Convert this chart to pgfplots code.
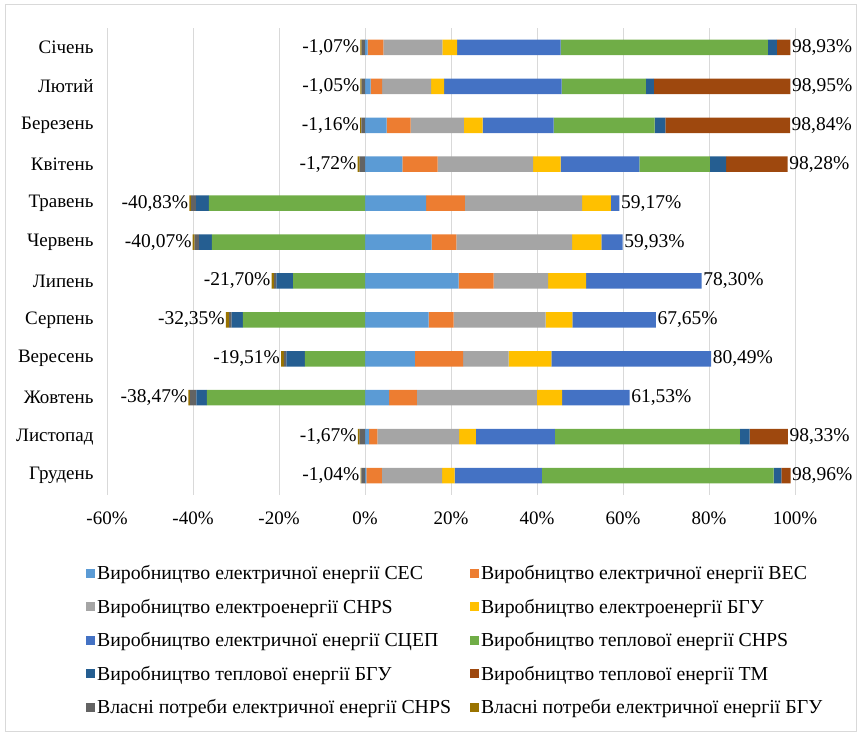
\documentclass[border=0pt]{standalone}
\usepackage{pgfplots}
\pgfplotsset{compat=1.18}
\usepackage{fontspec}
\setmainfont{Liberation Serif}
\definecolor{cSES}{HTML}{5B9BD5}
\definecolor{cVES}{HTML}{ED7D31}
\definecolor{cCHPS}{HTML}{A5A5A5}
\definecolor{cBGU}{HTML}{FFC000}
\definecolor{cSCEP}{HTML}{4472C4}
\definecolor{cTCHPS}{HTML}{70AD47}
\definecolor{cTBGU}{HTML}{255E91}
\definecolor{cTM}{HTML}{9E480E}
\definecolor{cOCHPS}{HTML}{636363}
\definecolor{cOBGU}{HTML}{997300}
\definecolor{gridc}{HTML}{D9D9D9}
\pgfplotsset{
  base/.style={
    at={(107bp,240bp)}, anchor=south west,
    scale only axis, width=688bp, height=467bp,
    xmin=-60, xmax=100, ymin=-0.5, ymax=11.5, y dir=reverse,
  },
  common/.style={base, xbar stacked, bar width=15.5bp},
  leg/.style={legend image code/.code={\fill[##1] (0bp,-4.5bp) rectangle (9bp,4.5bp);}},
}
\begin{document}
\begin{tikzpicture}
\path[use as bounding box] (0bp,0bp) rectangle (860bp,735bp);
\draw[color=gridc, line width=0.8bp] (5bp,4bp) rectangle (856bp,731bp);
\begin{axis}[common,
  xtick={-60,-40,...,100},
  xticklabels={-60\%,-40\%,-20\%,0\%,20\%,40\%,60\%,80\%,100\%},
  ytick={0,...,11},
  yticklabels={Січень,Лютий,Березень,Квітень,Травень,Червень,Липень,Серпень,Вересень,Жовтень,Листопад,Грудень},
  xmajorgrids, grid style={draw=gridc, line width=0.8bp},
  axis line style={draw=none},
  major tick length=0pt,
  tick label style={font=\fontsize{19bp}{23bp}\selectfont},
  yticklabel style={xshift=-10bp},
  xticklabel style={yshift=-13bp},
  legend columns=2,
  legend cell align=left,
  legend style={draw=none, fill=none, at={(-0.035,-0.142)}, anchor=north west,
    font=\fontsize{19.8bp}{23bp}\selectfont, row sep=13.8bp,
    /tikz/every even column/.append style={column sep=17bp}},
]
\addplot[leg, fill=cSES, draw=none] coordinates {(0.6,0) (1.3,1) (5.0,2) (8.7,3) (14.2,4) (15.5,5) (21.8,6) (14.8,7) (11.6,8) (5.6,9) (0.93,10) (0.3,11)};
\addlegendentry{Виробництво електричної енергії СЕС}
\addplot[leg, fill=cVES, draw=none] coordinates {(3.7,0) (2.7,1) (5.6,2) (8.2,3) (9.0,4) (5.75,5) (8.1,6) (5.8,7) (11.2,8) (6.45,9) (1.95,10) (3.65,11)};
\addlegendentry{Виробництво електричної енергії ВЕС}
\addplot[leg, fill=cCHPS, draw=none] coordinates {(13.7,0) (11.4,1) (12.4,2) (22.2,3) (27.3,4) (26.9,5) (12.7,6) (21.4,7) (10.6,8) (27.9,9) (19.0,10) (14.0,11)};
\addlegendentry{Виробництво електроенергії CHPS}
\addplot[leg, fill=cBGU, draw=none] coordinates {(3.4,0) (3.0,1) (4.35,2) (6.4,3) (6.7,4) (6.8,5) (8.8,6) (6.2,7) (9.95,8) (5.9,9) (3.9,10) (2.9,11)};
\addlegendentry{Виробництво електроенергії БГУ}
\addplot[leg, fill=cSCEP, draw=none] coordinates {(24.1,0) (27.3,1) (16.5,2) (18.3,3) (1.97,4) (4.98,5) (26.9,6) (19.45,7) (37.14,8) (15.68,9) (18.4,10) (20.3,11)};
\addlegendentry{Виробництво електричної енергії СЦЕП}
\addplot[leg, fill=cTCHPS, draw=none] coordinates {(48.2,0) (19.6,1) (23.5,2) (16.4,3) (0,4) (0,5) (0,6) (0,7) (0,8) (0,9) (43.0,10) (53.9,11)};
\addlegendentry{Виробництво теплової енергії CHPS}
\addplot[leg, fill=cTBGU, draw=none] coordinates {(2.1,0) (1.9,1) (2.5,2) (3.8,3) (0,4) (0,5) (0,6) (0,7) (0,8) (0,9) (2.25,10) (1.8,11)};
\addlegendentry{Виробництво теплової енергії БГУ}
\addplot[leg, fill=cTM, draw=none] coordinates {(3.13,0) (31.75,1) (28.99,2) (14.28,3) (0,4) (0,5) (0,6) (0,7) (0,8) (0,9) (8.9,10) (2.11,11)};
\addlegendentry{Виробництво теплової енергії ТМ}
\addlegendimage{leg, fill=cOCHPS, draw=none}
\addlegendentry{Власні потреби електричної енергії CHPS}
\addlegendimage{leg, fill=cOBGU, draw=none}
\addlegendentry{Власні потреби електричної енергії БГУ}
\end{axis}
\begin{axis}[common, hide axis]
\addplot[fill=cTCHPS, draw=none] coordinates {(0,0) (0,1) (0,2) (0,3) (-36.3,4) (-35.6,5) (-16.7,6) (-28.4,7) (-14.0,8) (-36.8,9) (0,10) (0,11)};
\addplot[fill=cTBGU, draw=none] coordinates {(0,0) (0,1) (0,2) (0,3) (-2.95,4) (-3.0,5) (-3.9,6) (-2.6,7) (-4.3,8) (-2.4,9) (0,10) (0,11)};
\addplot[fill=cOCHPS, draw=none] coordinates {(-0.8,0) (-0.78,1) (-0.85,2) (-1.27,3) (-1.18,4) (-1.0,5) (-0.55,6) (-0.6,7) (-0.55,8) (-1.55,9) (-1.25,10) (-0.85,11)};
\addplot[fill=cOBGU, draw=none] coordinates {(-0.27,0) (-0.27,1) (-0.31,2) (-0.45,3) (-0.4,4) (-0.47,5) (-0.55,6) (-0.75,7) (-0.66,8) (-0.3,9) (-0.42,10) (-0.19,11)};
\end{axis}
\begin{axis}[base, hide axis]
\addplot[draw=none, mark=none, point meta=explicit symbolic, nodes near coords,
  every node near coord/.append style={anchor=west, inner xsep=1.5bp, text=black, font=\fontsize{19.5bp}{23bp}\selectfont}]
  coordinates {(98.93,0) [98,93\%] (98.95,1) [98,95\%] (98.84,2) [98,84\%] (98.28,3) [98,28\%] (59.17,4) [59,17\%] (59.93,5) [59,93\%] (78.30,6) [78,30\%] (67.65,7) [67,65\%] (80.49,8) [80,49\%] (61.53,9) [61,53\%] (98.33,10) [98,33\%] (98.96,11) [98,96\%]};
\addplot[draw=none, mark=none, point meta=explicit symbolic, nodes near coords,
  every node near coord/.append style={anchor=east, inner xsep=1bp, text=black, font=\fontsize{19.5bp}{23bp}\selectfont}]
  coordinates {(-1.07,0) [-1,07\%] (-1.05,1) [-1,05\%] (-1.16,2) [-1,16\%] (-1.72,3) [-1,72\%] (-40.83,4) [-40,83\%] (-40.07,5) [-40,07\%] (-21.70,6) [-21,70\%] (-32.35,7) [-32,35\%] (-19.51,8) [-19,51\%] (-41.05,9) [-38,47\%] (-1.67,10) [-1,67\%] (-1.04,11) [-1,04\%]};
\end{axis}
\end{tikzpicture}
\end{document}
